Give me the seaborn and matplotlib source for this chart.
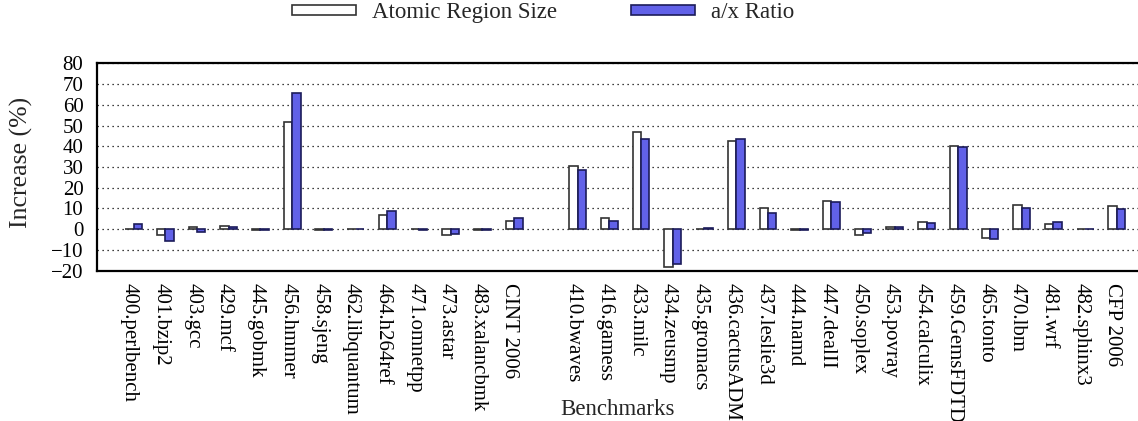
import numpy as np
import pandas as pd
import matplotlib
matplotlib.use("Agg")
import matplotlib.pyplot as plt
import seaborn as sns

# Benchmark names (SPEC CPU2006 integer and floating point suites)
cint_names = ["400.perlbench", "401.bzip2", "403.gcc", "429.mcf", "445.gobmk",
              "456.hmmer", "458.sjeng", "462.libquantum", "464.h264ref",
              "471.omnetpp", "473.astar", "483.xalancbmk", "CINT 2006"]
cfp_names = ["410.bwaves", "416.gamess", "433.milc", "434.zeusmp", "435.gromacs",
             "436.cactusADM", "437.leslie3d", "444.namd", "447.dealII", "450.soplex",
             "453.povray", "454.calculix", "459.GemsFDTD", "465.tonto", "470.lbm",
             "481.wrf", "482.sphinx3", "CFP 2006"]

# Increase (%) per benchmark
cint_atomic = [0.3, -2.9, 1.0, 1.4, -0.3, 51.7, -0.5, 0.2, 7.0, 0.1, -2.8, -0.4, 4.0]
cint_ratio = [2.7, -5.8, -1.3, 1.1, -0.3, 65.8, -0.5, 0.1, 8.7, -0.2, -2.3, -0.3, 5.6]
cfp_atomic = [30.4, 5.3, 46.9, -18.4, 0.3, 42.7, 10.1, -0.3, 13.7, -2.9,
              1.0, 3.4, 40.1, -4.0, 11.6, 2.4, 0.1, 11.1]
cfp_ratio = [28.6, 3.9, 43.5, -16.8, 0.6, 43.5, 7.7, -0.4, 13.0, -1.6,
             1.1, 2.9, 39.6, -4.7, 10.0, 3.7, 0.0, 9.7]

series_names = ["Atomic Region Size", "a/x Ratio"]

# Slot positions: CINT, one empty slot, then CFP
names = cint_names + cfp_names
slots = list(range(len(cint_names))) + [len(cint_names) + 1 + i for i in range(len(cfp_names))]
shift = 0.1325  # white bar sits on the tick, blue bar to the right

df = pd.DataFrame({
    "pos": [s + shift for s in slots] * 2,
    "value": cint_atomic + cfp_atomic + cint_ratio + cfp_ratio,
    "series": [series_names[0]] * len(names) + [series_names[1]] * len(names),
})

sns.set_style("white")
plt.rcParams["font.family"] = ["Liberation Serif", "DejaVu Serif"]
plt.rcParams["font.size"] = 15

fig = plt.figure(figsize=(11.38, 4.21), dpi=100)
ax = fig.add_axes([0.0855, 0.357, 0.9145, 0.4926])

sns.barplot(data=df, x="pos", y="value", hue="series", native_scale=True,
            width=0.53, errorbar=None, ax=ax,
            palette={series_names[0]: "white", series_names[1]: "#4a4aff"},
            edgecolor="black", linewidth=1.2, zorder=3)

# darker edge for the blue bars
for patch in ax.patches:
    fc = patch.get_facecolor()
    if fc[2] > 0.9 and fc[0] < 0.5:
        patch.set_edgecolor("#1c1c5a")
    else:
        patch.set_edgecolor("#333333")

ax.set_ylim(-20, 80)
ax.set_yticks(np.arange(-20, 81, 10))
ax.set_xlim(-1.01, 31.8)
ax.set_xticks(slots)
ax.set_xticklabels(names, rotation=-90, va="top", ha="center")

ax.grid(axis="y", linestyle=(0, (1, 3)), color="black", linewidth=0.9, zorder=0)
ax.set_axisbelow(True)
ax.tick_params(axis="both", direction="in", length=7, width=1.4, pad=9,
               labelsize=15, colors="black")
ax.tick_params(axis="y", right=False, pad=10)
ax.tick_params(axis="x", top=False)

for side in ["top", "left", "bottom"]:
    ax.spines[side].set_linewidth(1.6)
    ax.spines[side].set_color("black")
ax.spines["right"].set_visible(False)

ax.set_ylabel("Increase (%)", fontsize=18.5)
ax.yaxis.set_label_coords(-0.062, 0.52)
ax.set_xlabel("Benchmarks", fontsize=16.5, va="top")
ax.xaxis.set_label_coords(0.5, -0.62)

# Legend on top of the figure
handles, labels = ax.get_legend_handles_labels()
ax.get_legend().remove()
fig.legend(handles, labels, ncol=2, loc="center left",
           bbox_to_anchor=(0.2563, 0.9705), frameon=False,
           borderpad=0, borderaxespad=0, handlelength=2.8, handleheight=0.29,
           handletextpad=0.69, columnspacing=3.25, fontsize=16.5)

fig.savefig("out.png", dpi=100)
